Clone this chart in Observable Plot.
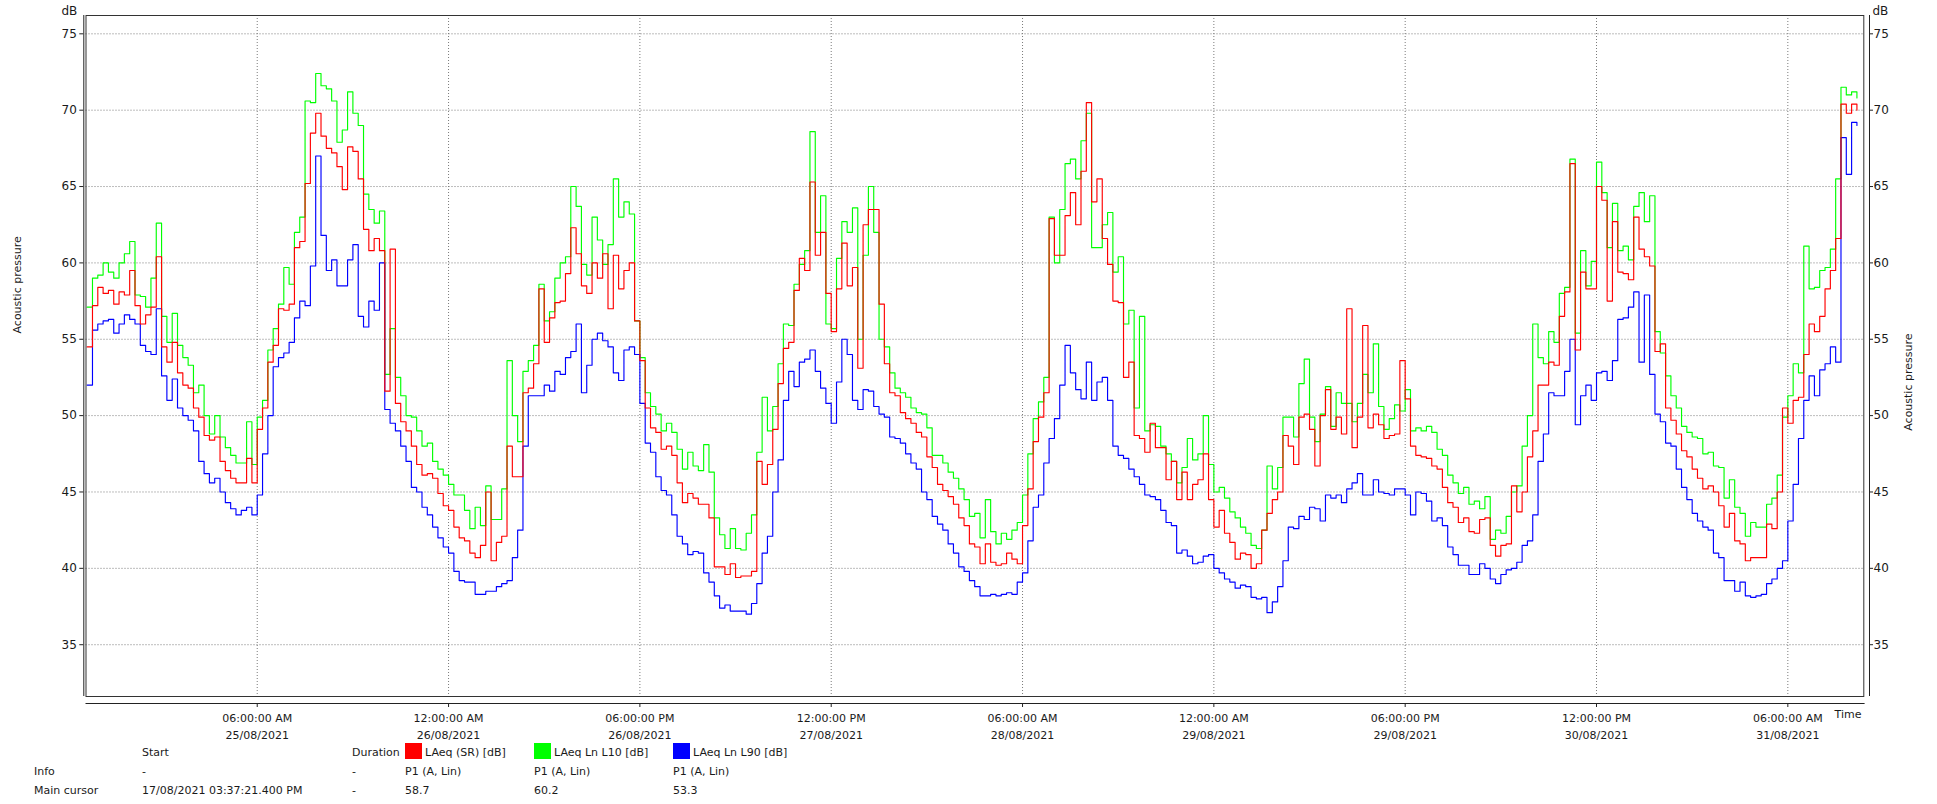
<!DOCTYPE html>
<html>
<head>
<meta charset="utf-8">
<script src="https://cdn.jsdelivr.net/npm/d3@7"></script>
<script src="https://cdn.jsdelivr.net/npm/@observablehq/plot@0.6"></script>
<style>
  html, body { margin: 0; padding: 0; background: #fff; }
  #wrap { position: relative; width: 1937px; height: 804px; font-family: "DejaVu Sans", sans-serif; color: #1a1a1a; }
  #wrap svg { display: block; }
  .cell { position: absolute; font-size: 11px; white-space: nowrap; transform: translateY(-50%); line-height: 1; }
  .sw { position: absolute; width: 17px; height: 16px; }
</style>
</head>
<body>
<div id="wrap"></div>
<script>
// ---- data: half-hour values starting 24/08/2021 14:00 ----
const startTime = Date.UTC(2021, 7, 24, 14, 0);
const stepMinutes = 30;

const laeqSR = [
  54.5,57.2,58.4,58.0,58.2,57.3,58.1,57.9,59.5,57.2,56.0,56.6,57.1,60.4,54.5,53.5,54.8,52.8,52.0,51.8,
  50.5,49.9,48.7,48.4,48.6,47.0,46.4,45.9,45.6,45.6,47.2,45.6,49.1,50.5,53.5,54.6,57.0,56.9,57.3,61.0,
  61.4,65.2,68.5,69.8,68.3,67.5,67.2,66.3,64.8,67.6,67.3,65.5,62.2,60.8,61.6,60.8,
  51.6,60.9,50.8,49.6,49.0,48.0,46.8,46.1,46.2,45.9,44.9,44.1,43.8,42.7,42.0,41.8,41.0,40.7,41.5,45.0,
  40.5,41.7,42.1,48.0,46.0,46.0,51.5,51.8,53.4,58.3,54.8,56.4,57.4,57.5,59.3,62.3,60.6,58.5,58.0,60.0,
  59.0,60.6,57.0,60.5,58.3,59.5,60.0,56.2,53.6,50.5,49.2,48.9,47.8,48.0,47.4,
  45.6,44.3,44.9,44.6,44.2,44.2,43.3,40.1,40.1,39.6,40.3,39.4,39.5,39.5,39.8,47.0,45.5,46.8,49.1,52.1,
  54.4,54.8,58.2,60.3,59.5,65.3,60.5,62.0,58.0,55.5,58.3,61.3,58.5,59.7,53.1,62.5,63.5,63.5,57.3,53.4,
  51.5,51.3,50.2,49.8,49.5,48.9,48.6,47.3,46.6,45.5,45.1,44.7,44.2,43.3,42.8,41.6,
  41.4,40.3,41.6,40.4,40.2,40.3,41.0,40.6,40.3,42.8,45.2,48.3,49.9,51.5,62.9,60.5,60.5,63.1,64.6,62.5,
  66.0,70.5,64.0,65.5,61.6,59.9,57.5,57.4,52.5,53.5,48.7,48.5,47.6,49.5,47.9,47.9,45.8,47.0,44.5,46.3,
  44.5,45.5,45.8,47.5,44.5,42.7,43.8,42.3,41.7,40.6,41.0,40.9,40.0,40.3,42.5,
  43.6,44.5,45.0,48.7,48.0,46.8,49.9,50.1,49.1,46.7,50.0,51.7,49.1,49.9,48.8,57.0,47.9,49.9,55.9,49.2,
  50.1,49.4,48.5,48.7,48.8,53.6,51.1,48.0,47.4,47.3,47.2,46.7,46.5,45.3,44.3,44.0,43.0,43.3,42.4,42.3,
  43.2,43.3,41.5,40.8,41.5,41.6,45.4,43.7,45.0,47.3,49.0,52.0,52.0,53.5,53.3,56.5,
  58.1,66.5,54.3,59.4,58.3,58.3,65.0,64.1,57.5,62.7,59.4,59.3,58.9,63.0,60.9,60.4,59.8,54.2,54.7,50.5,
  49.7,48.8,47.7,47.3,46.5,45.9,45.2,45.4,45.0,44.1,42.7,43.6,41.8,41.6,40.5,40.7,40.7,40.7,42.9,42.6,
  45.0,50.5,49.5,51.0,51.2,54.0,56.0,55.5,56.5,58.3,59.5,61.6,70.4,69.8,70.4,70.0
];

const laeqL10 = [
  57.1,59.0,59.2,60.0,59.4,59.0,60.0,60.6,61.4,57.9,57.8,57.1,59.0,62.6,56.5,54.8,56.7,54.6,53.8,53.3,
  51.5,52.0,50.0,48.8,50.0,48.6,47.9,47.4,46.9,46.9,49.6,46.8,49.9,51.0,54.3,55.7,57.3,59.7,58.6,62.0,
  63.0,70.6,70.5,72.4,71.6,71.4,70.6,67.9,68.7,71.2,69.8,69.0,64.5,63.5,62.6,63.4,
  52.7,55.7,52.5,51.3,50.0,49.9,49.0,48.0,48.2,47.0,46.5,46.1,45.5,44.8,44.8,43.8,42.6,44.0,42.8,45.4,
  43.2,43.2,45.2,53.6,50.0,48.3,52.9,53.6,54.6,58.6,56.2,56.8,59.0,60.0,60.4,65.0,63.7,59.9,59.2,63.0,
  61.5,59.9,61.2,65.5,63.0,64.0,63.2,56.2,53.8,51.5,50.6,50.1,49.0,49.5,48.9,
  47.8,46.5,47.6,46.7,46.4,48.1,46.3,43.3,42.2,41.3,42.6,41.3,41.2,42.3,43.5,47.6,51.2,49.0,50.6,53.4,
  56.0,55.9,58.6,59.9,60.8,68.6,62.0,64.4,56.0,55.7,60.3,62.7,62.0,63.6,55.0,60.5,65.0,62.0,55.0,54.5,
  52.8,51.8,51.5,51.2,50.5,50.2,50.1,49.2,47.4,47.4,46.9,46.3,45.9,45.2,44.5,43.4,
  43.6,42.0,44.5,42.4,41.6,42.3,41.9,42.5,43.0,44.8,47.5,49.8,50.9,52.5,63.0,60.0,63.5,66.5,66.8,65.5,
  68.0,69.8,61.0,61.0,62.5,63.3,59.4,60.4,56.0,56.9,50.5,56.5,49.0,49.4,49.3,48.0,47.5,47.0,45.6,46.6,
  48.5,47.1,47.5,50.0,46.8,45.0,45.3,44.6,43.7,43.3,42.7,42.3,41.5,41.3,42.5,
  46.7,45.2,46.6,49.9,49.9,48.6,52.1,53.7,49.9,48.3,50.1,51.9,49.3,51.5,50.8,50.8,49.6,50.8,52.7,51.5,
  54.7,50.6,49.1,49.8,50.7,50.3,51.7,49.0,49.2,49.0,49.3,48.9,47.8,47.4,46.1,45.6,44.9,45.3,44.2,44.4,
  43.9,44.7,41.9,42.5,42.3,43.4,45.0,45.4,48.0,50.0,56.0,53.8,53.4,55.5,54.8,58.0,
  58.4,66.8,55.4,60.8,58.5,60.1,66.6,64.6,61.0,63.9,60.8,61.1,60.2,63.7,64.6,62.7,64.4,55.5,54.1,52.6,
  51.3,50.5,49.3,48.9,48.6,48.5,47.5,47.6,46.7,46.6,44.6,45.8,44.0,43.6,42.1,43.0,42.7,42.7,44.2,44.6,
  46.1,49.9,51.3,53.4,52.8,61.1,58.3,58.4,59.5,59.7,60.9,65.5,71.5,71.0,71.2,70.8
];

const laeqL90 = [
  52.0,55.6,56.0,56.2,56.3,55.4,56.0,56.6,56.3,56.0,54.6,54.2,54.0,57.0,52.6,51.0,52.4,50.5,50.0,49.7,
  49.0,47.0,46.2,45.6,45.9,45.0,44.3,43.9,43.5,43.8,44.0,43.5,44.8,47.5,50.0,53.2,53.8,54.1,54.8,56.4,
  57.5,57.2,59.8,67.0,61.8,59.5,60.2,58.5,58.5,60.2,61.2,56.5,55.8,57.5,56.9,60.0,
  50.4,49.5,49.0,48.0,47.0,45.3,45.0,44.0,43.5,42.7,42.0,41.4,41.0,39.8,39.2,39.1,39.1,38.3,38.3,38.5,
  38.5,38.8,39.0,39.2,40.7,42.5,48.0,51.3,51.3,51.3,52.0,51.6,52.9,52.7,53.8,54.2,56.0,51.5,53.3,55.0,
  55.4,54.9,54.5,52.8,52.3,54.3,54.5,54.0,50.8,48.2,47.6,46.0,45.1,44.8,43.5,
  42.1,41.6,40.9,41.1,41.0,39.7,39.1,38.2,37.4,37.6,37.2,37.2,37.2,37.0,37.7,39.0,41.0,42.1,45.0,47.1,
  51.0,52.9,51.9,53.5,53.7,54.3,52.9,51.8,50.8,49.5,52.2,55.0,54.0,51.0,50.4,51.7,51.6,50.6,50.1,49.9,
  48.6,48.5,48.2,47.5,46.9,46.5,45.0,44.5,43.4,42.9,42.5,41.6,41.0,40.1,39.8,39.2,
  38.8,38.2,38.2,38.3,38.2,38.3,38.4,38.3,39.1,39.7,41.8,44.0,44.8,46.9,48.5,49.8,52.0,54.6,52.8,51.7,
  51.1,53.5,51.0,52.2,52.5,51.0,48.0,47.4,47.2,46.5,46.0,45.5,44.8,44.7,44.5,43.8,43.0,42.8,41.0,41.2,
  40.8,40.3,40.4,40.8,40.9,40.0,39.7,39.3,39.1,38.7,38.9,38.8,38.1,38.0,38.1,
  37.1,37.8,38.8,40.5,42.7,42.6,43.4,43.2,44.0,43.9,43.1,44.8,44.6,44.8,44.3,45.2,45.6,46.2,44.8,44.8,
  45.8,45.0,44.9,44.8,45.2,45.2,44.8,43.5,45.0,44.9,44.4,43.1,43.3,42.8,41.4,40.9,40.2,40.2,39.6,39.6,
  40.3,40.0,39.3,39.0,39.6,39.9,40.0,40.4,41.5,41.8,43.5,47.0,48.8,51.5,51.3,51.3,
  52.9,55.0,49.4,51.3,52.0,51.0,52.8,52.9,52.3,53.6,56.3,56.4,57.1,58.1,53.5,57.9,52.7,50.1,49.6,48.2,
  48.0,46.5,45.3,44.5,43.6,43.1,42.7,42.5,41.0,40.7,39.2,39.2,38.5,39.1,38.2,38.1,38.2,38.3,39.0,39.3,
  40.0,40.5,43.1,45.5,48.5,51.0,52.6,51.3,53.0,53.4,54.5,53.5,68.2,65.8,69.2,69.0
];

const seriesNames = ["LAeq (SR) [dB]", "LAeq Ln L10 [dB]", "LAeq Ln L90 [dB]"];
const seriesColors = ["#ff0000", "#00ff00", "#0000ff"];
const infoValues = ["P1 (A, Lin)", "P1 (A, Lin)", "P1 (A, Lin)"];
const cursorValues = ["58.7", "60.2", "53.3"];
const cursorStart = "17/08/2021 03:37:21.400 PM";

const tickStamps = ["2021-08-25T06:00Z","2021-08-26T00:00Z","2021-08-26T18:00Z","2021-08-27T12:00Z",
  "2021-08-28T06:00Z","2021-08-29T00:00Z","2021-08-29T18:00Z","2021-08-30T12:00Z","2021-08-31T06:00Z"];
const tickTimes = ["06:00:00 AM","12:00:00 AM","06:00:00 PM","12:00:00 PM","06:00:00 AM",
  "12:00:00 AM","06:00:00 PM","12:00:00 PM","06:00:00 AM"];
const tickDays = ["25/08/2021","26/08/2021","26/08/2021","27/08/2021","28/08/2021",
  "29/08/2021","29/08/2021","30/08/2021","31/08/2021"];
const yTicks = [35, 40, 45, 50, 55, 60, 65, 70, 75];

// ---- build table ----
const seriesValues = [laeqSR, laeqL10, laeqL90];
const rows = seriesValues.flatMap((vals, k) => vals.map((v, i) => ({
  time: new Date(startTime + i * stepMinutes * 60000), value: v, series: seriesNames[k]
})));
const tickDates = tickStamps.map(s => new Date(s));
const tickLabel = new Map(tickDates.map((d, i) => [+d, tickTimes[i] + "\n" + tickDays[i]]));

const xDomain = [new Date(Date.UTC(2021, 7, 24, 13, 41)), new Date(Date.UTC(2021, 7, 31, 13, 41))];
const yDomain = [31.15, 76.2];
const inL = 2.2, inR = 5.7, inB = 7;
const gridStyle = {stroke: "#7a7a7a", strokeOpacity: 1, strokeDasharray: "1,2", strokeWidth: 1};
const font = "DejaVu Sans, sans-serif";

const lineFor = name => Plot.line(rows.filter(r => r.series === name), {
  x: "time", y: "value", stroke: "series", curve: "step-after", strokeWidth: 1.15
});

const chart = Plot.plot({
  width: 1937,
  height: 742,
  marginLeft: 83.3,
  marginRight: 68,
  marginTop: 15,
  marginBottom: 39,
  style: {fontFamily: font, fontSize: "11px", color: "#1a1a1a", background: "#fff"},
  x: {type: "utc", domain: xDomain, axis: null},
  y: {domain: yDomain, axis: null},
  color: {domain: seriesNames, range: seriesColors},
  marks: [
    Plot.gridY(yTicks, {...gridStyle, insetLeft: inL, insetRight: inR}),
    Plot.gridX(tickDates, {...gridStyle, insetBottom: inB}),
    lineFor(seriesNames[1]),
    lineFor(seriesNames[2]),
    lineFor(seriesNames[0]),
    Plot.frame({stroke: "#333", insetLeft: inL, insetRight: inR, insetBottom: inB}),
    Plot.ruleX([xDomain[0]], {stroke: "#222", insetBottom: inB}),
    Plot.ruleX([xDomain[1]], {stroke: "#222", insetBottom: inB}),
    Plot.ruleY([yDomain[0]], {stroke: "#222", insetLeft: inL, insetRight: 4.4}),
    Plot.axisY(yTicks, {anchor: "left", label: null, tickSize: 4, tickPadding: 3, fontSize: 12, stroke: "#222", fill: "#1a1a1a"}),
    Plot.axisY(yTicks, {anchor: "right", label: null, tickSize: 3, tickPadding: 1, fontSize: 12, stroke: "#222", fill: "#1a1a1a"}),
    Plot.axisX(tickDates, {anchor: "bottom", label: null, tickSize: 4, tickPadding: 3, fontSize: 11, lineHeight: 1.5,
      tickFormat: d => tickLabel.get(+d), stroke: "#222", fill: "#1a1a1a"}),
    Plot.text(["dB"], {frameAnchor: "top-left", textAnchor: "end", lineAnchor: "bottom", dx: -6.5, dy: -1, fontSize: 12}),
    Plot.text(["dB"], {frameAnchor: "top-right", textAnchor: "start", lineAnchor: "bottom", dx: 3, dy: -1, fontSize: 12}),
    Plot.text(["Acoustic pressure"], {frameAnchor: "left", rotate: -90, dx: -66, dy: -26, fontSize: 11}),
    Plot.text(["Acoustic pressure"], {frameAnchor: "right", rotate: -90, dx: 39, dy: -26, fontSize: 11}),
    Plot.text(["Time"], {frameAnchor: "bottom-right", textAnchor: "start", lineAnchor: "top", dx: -35, dy: 7, fontSize: 11})
  ]
});

const wrap = document.getElementById("wrap");
wrap.appendChild(chart);

// ---- legend / info table below the chart ----
function cell(text, left, top) {
  const d = document.createElement("div");
  d.className = "cell"; d.textContent = text;
  d.style.left = left + "px"; d.style.top = top + "px";
  wrap.appendChild(d);
}
function swatch(color, left, top) {
  const d = document.createElement("div");
  d.className = "sw"; d.style.background = color;
  d.style.left = left + "px"; d.style.top = top + "px";
  wrap.appendChild(d);
}
const rowY = [752, 771, 790];
const colX = [405, 534, 673];
cell("Start", 142, rowY[0]);
cell("Duration", 352, rowY[0]);
seriesNames.forEach((n, i) => { swatch(seriesColors[i], colX[i], rowY[0] - 9); cell(n, colX[i] + 20, rowY[0]); });
cell("Info", 34, rowY[1]); cell("-", 142, rowY[1]); cell("-", 352, rowY[1]);
infoValues.forEach((v, i) => cell(v, colX[i], rowY[1]));
cell("Main cursor", 34, rowY[2]); cell(cursorStart, 142, rowY[2]); cell("-", 352, rowY[2]);
cursorValues.forEach((v, i) => cell(v, colX[i], rowY[2]));
</script>
</body>
</html>
